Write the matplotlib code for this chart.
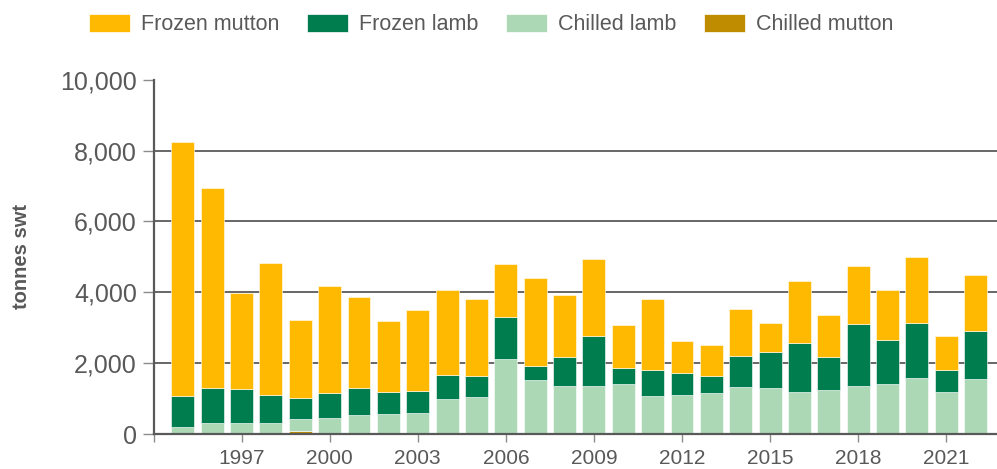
import matplotlib
matplotlib.use("Agg")
import matplotlib.pyplot as plt
from matplotlib.patches import Patch
import numpy as np

plt.rcParams['font.family'] = ['Liberation Sans', 'DejaVu Sans']

years = list(range(1995, 2023))
chilled_mutton = [0, 0, 0, 0, 80, 0, 0, 0, 0, 0, 0, 0, 0, 0, 0, 0, 0, 0, 0, 0, 0, 0, 0, 0, 0, 0, 0, 0]
chilled_lamb = [214, 318, 318, 318, 350, 450, 544, 572, 610, 1005, 1042, 2132, 1531, 1352,
                1371, 1409, 1070, 1099, 1164, 1333, 1315, 1183, 1258, 1352, 1418, 1587, 1183, 1549]
frozen_lamb = [864, 986, 967, 798, 592, 704, 760, 628, 612, 657, 601, 1173, 403, 817,
               1390, 460, 752, 619, 479, 883, 1014, 1380, 911, 1747, 1239, 1549, 639, 1362]
frozen_mutton = [7156, 5642, 2700, 3706, 2211, 3037, 2558, 1995, 2284, 2413, 2179, 1493, 2479, 1756,
                 2178, 1202, 1981, 902, 864, 1305, 807, 1766, 1202, 1643, 1399, 1869, 948, 1577]

series_names = ["Frozen mutton", "Frozen lamb", "Chilled lamb", "Chilled mutton"]
colors = {"Frozen mutton": "#FFB900", "Frozen lamb": "#007D4E",
          "Chilled lamb": "#ACD8B6", "Chilled mutton": "#BF8C00"}

fig = plt.figure(figsize=(9.97, 4.69), dpi=100)
ax = fig.add_axes([153.5 / 997, 1 - 434.2 / 469, (997 - 153.5) / 997, (434.2 - 79.7) / 469])

x = np.array(years)
w = 0.78
bottom = np.zeros(len(years))
stack = [("Chilled mutton", chilled_mutton), ("Chilled lamb", chilled_lamb),
         ("Frozen lamb", frozen_lamb), ("Frozen mutton", frozen_mutton)]
for name, vals in stack:
    v = np.array(vals, dtype=float)
    ax.bar(x, v, w, bottom=bottom, color=colors[name], edgecolor='white', linewidth=0.4,
           zorder=3)
    bottom += v

ax.set_xlim(1994, 1994 + (997 - 153.5) / 29.36)
ax.set_ylim(0, 10000)

for yv in [2000, 4000, 6000, 8000]:
    ax.axhline(yv, color='#5a5a5a', lw=1.3, zorder=1)

ax.set_yticks([0, 2000, 4000, 6000, 8000, 10000])
ax.set_yticklabels(['0', '2,000', '4,000', '6,000', '8,000', '10,000'])
xt = list(range(1994, 2022, 3))
ax.set_xticks(xt)
ax.set_xticklabels(['' if t == 1994 else str(t) for t in xt])

ax.tick_params(axis='y', length=8, width=1, color='#8c8c8c', labelsize=18,
               labelcolor='#595959', pad=4)
ax.tick_params(axis='x', length=6, width=1, color='#8c8c8c', labelsize=15,
               labelcolor='#595959', pad=5)

for s in ['top', 'right']:
    ax.spines[s].set_visible(False)
for s in ['left', 'bottom']:
    ax.spines[s].set_color('#595959')
    ax.spines[s].set_linewidth(1.6)
    ax.spines[s].set_zorder(4)

ax.set_ylabel('tonnes swt', fontsize=14.5, fontweight='bold', color='#595959')
ax.yaxis.set_label_coords((31 - 153.5) / 843.5, 0.5)

handles = [Patch(facecolor=colors[n], edgecolor='white', linewidth=0.5) for n in series_names]
leg = fig.legend(handles, series_names, loc='center left', bbox_to_anchor=(89 / 997, 0.948),
                 ncol=4, frameon=False, fontsize=15.5, handlelength=1.9, handleheight=0.95,
                 handletextpad=0.5, columnspacing=1.3, labelcolor='#595959',
                 borderaxespad=0, borderpad=0)

fig.savefig('out.png', dpi=100)
